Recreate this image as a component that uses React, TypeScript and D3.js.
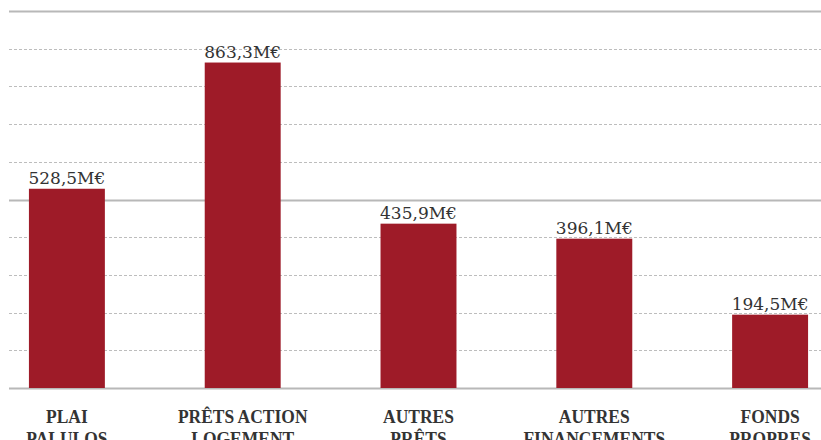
import React, { useRef, useEffect } from 'react';
import * as d3 from 'd3';

const categories = [
  ['PLAI', 'PALULOS'],
  ['PRÊTS ACTION', 'LOGEMENT'],
  ['AUTRES', 'PRÊTS'],
  ['AUTRES', 'FINANCEMENTS'],
  ['FONDS', 'PROPRES'],
];
const values = [528.5, 863.3, 435.9, 396.1, 194.5];
const valueLabels = ['528,5M€', '863,3M€', '435,9M€', '396,1M€', '194,5M€'];
const gridTicks = [0, 100, 200, 300, 400, 500, 600, 700, 800, 900, 1000];

const App = () => {
  const ref = useRef<SVGSVGElement>(null);

  useEffect(() => {
    const width = 821;
    const height = 440;
    const svg = d3.select(ref.current);
    svg.selectAll('*').remove();

    const y = d3.scaleLinear().domain([0, 1000]).range([388, 11]);
    const x = d3.scaleBand<number>()
      .domain(d3.range(values.length))
      .range([-21, 858])
      .paddingInner(0.568)
      .paddingOuter(0.284);

    // grid: solid every 500, dotted in between
    svg.append('g')
      .selectAll('line')
      .data(gridTicks)
      .join('line')
      .attr('x1', 9)
      .attr('x2', width)
      .attr('y1', d => Math.round(y(d)) + 0.5)
      .attr('y2', d => Math.round(y(d)) + 0.5)
      .attr('stroke', d => (d % 500 === 0 ? '#b8b8b8' : '#bdbdbd'))
      .attr('stroke-width', d => (d % 500 === 0 ? 2 : 1))
      .attr('stroke-dasharray', d => (d % 500 === 0 ? null : '3,2'));

    svg.append('g')
      .selectAll('rect')
      .data(values)
      .join('rect')
      .attr('x', (d, i) => x(i)!)
      .attr('y', d => y(d))
      .attr('width', x.bandwidth())
      .attr('height', d => y(0) - y(d))
      .attr('fill', '#9e1b28');

    svg.append('g')
      .selectAll('text')
      .data(values)
      .join('text')
      .attr('x', (d, i) => x(i)! + x.bandwidth() / 2)
      .attr('y', d => y(d) - 5)
      .attr('text-anchor', 'middle')
      .attr('font-family', '"DejaVu Serif", serif')
      .attr('font-size', 17)
      .attr('fill', '#333')
      .text((d, i) => valueLabels[i]);

    const cat = svg.append('g')
      .selectAll('g')
      .data(categories)
      .join('g')
      .attr('transform', (d, i) => `translate(${x(i)! + x.bandwidth() / 2},423) scale(0.92,1)`);

    cat.selectAll('text')
      .data(d => d)
      .join('text')
      .attr('x', 0)
      .attr('y', (d, j) => j * 22)
      .attr('text-anchor', 'middle')
      .attr('font-family', '"Liberation Serif", serif')
      .attr('font-weight', 'bold')
      .attr('font-size', 19)
      .attr('fill', '#333')
      .text(d => d);
  }, []);

  return (
    <svg
      ref={ref}
      width={821}
      height={440}
      style={{ position: 'absolute', left: 0, top: 0, background: '#fff' }}
    />
  );
};

export default App;
